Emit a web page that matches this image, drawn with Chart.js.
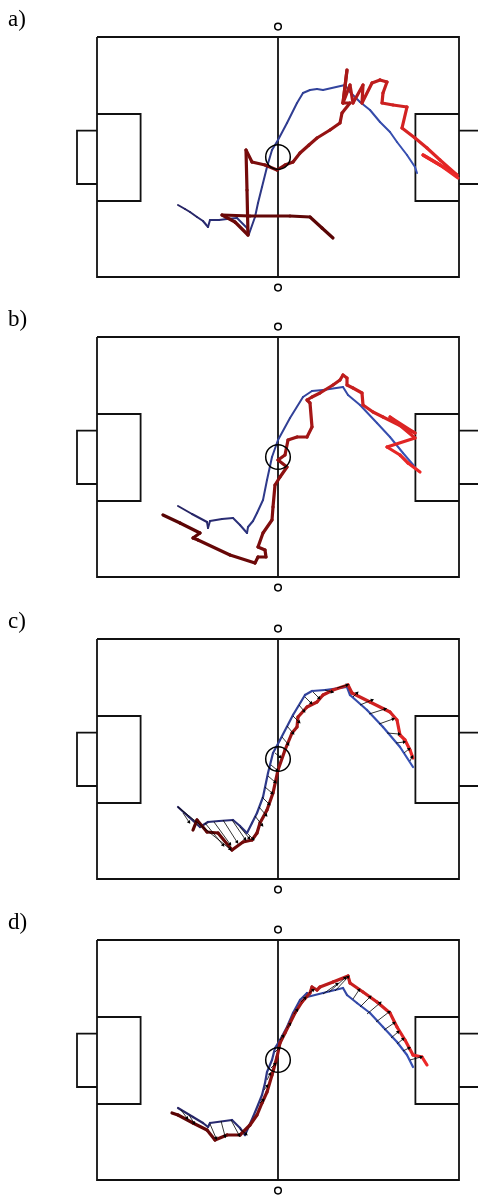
<!DOCTYPE html>
<html>
<head>
<meta charset="utf-8">
<script src="https://cdn.jsdelivr.net/npm/chart.js@4.4.1/dist/chart.umd.min.js"></script>
<style>
	body { margin: 0; width: 478px; height: 1196px; overflow: hidden; background: #fff; position: relative; }
	.panel { position: absolute; left: 0; width: 478px; height: 301px; }
	.panel canvas { position: absolute; left: 0; top: 0; }
	.label { position: absolute; left: 8px; top: 7px; z-index: 2; font: 23px "Liberation Serif", "DejaVu Serif", serif; line-height: 1; color: #000; }
</style>
</head>
<body>
<div class="panel" style="top:0px"><div class="label">a)</div><canvas id="chartA" width="478" height="301"></canvas></div>
<div class="panel" style="top:300px"><div class="label">b)</div><canvas id="chartB" width="478" height="301"></canvas></div>
<div class="panel" style="top:602px"><div class="label">c)</div><canvas id="chartC" width="478" height="301"></canvas></div>
<div class="panel" style="top:903px"><div class="label">d)</div><canvas id="chartD" width="478" height="301"></canvas></div>
<script>
// Pitch coordinates in figure units, origin at the top left corner of the pitch
var blueA = [[81,168],[88,172],[93,175],[100,180],[106,184],[111,190],[113,183],[122,183],[130,182],[140,181],[150,191],[152,197],[158,180],[161,166],[165,150],[170,130],[175,113],[181,103],[190,86],[200,66],[206,56],[213,53],[220,52],[226,53],[248,48],[253,55],[263,65],[273,73],[283,85],[293,95],[300,105],[310,118],[318,130],[320,136]];
var redA = [[236,201],[225,191],[213,180],[193,179],[153,179],[125,178],[138,185],[151,198],[150,153],[149,113],[155,125],[168,128],[180,133],[188,128],[196,125],[203,116],[212,108],[220,101],[233,93],[243,86],[245,76],[253,66],[246,66],[250,33],[246,66],[253,48],[256,66],[266,48],[265,66],[275,46],[283,43],[290,45],[286,56],[285,66],[296,68],[310,70],[305,91],[318,101],[330,111],[343,123],[360,138],[326,118],[343,128],[361,141]];

var blueB = [[81,169],[95,177],[110,185],[111,191],[113,184],[125,182],[136,181],[143,188],[150,196],[151,190],[156,184],[160,176],[166,163],[170,143],[175,120],[181,103],[193,81],[206,60],[215,54],[226,53],[246,50],[251,58],[263,68],[280,86],[293,100],[306,116],[318,130]];
var redB = [[66,178],[83,186],[103,196],[96,201],[101,203],[133,218],[158,226],[161,220],[169,220],[168,213],[161,210],[166,196],[175,183],[176,170],[178,148],[183,140],[190,130],[181,123],[188,118],[191,103],[200,100],[210,100],[215,90],[213,66],[210,63],[215,60],[223,56],[236,48],[243,43],[246,38],[250,41],[250,48],[256,51],[265,56],[266,68],[276,75],[286,80],[318,96],[293,80],[318,101],[290,110],[303,118],[311,126],[323,135]];

var blueC = [[81,168],[92,178],[103,188],[111,183],[122,182],[136,181],[143,187],[150,194],[155,184],[160,174],[166,158],[171,134],[176,114],[183,101],[196,76],[208,56],[215,52],[228,51],[250,48],[253,56],[270,71],[286,88],[303,108],[316,128]];
var redC = [[96,191],[100,181],[110,193],[121,194],[135,211],[146,203],[155,201],[160,194],[163,184],[170,171],[176,154],[181,131],[188,111],[195,94],[200,88],[201,78],[210,68],[220,63],[226,56],[236,51],[251,46],[255,54],[273,63],[293,73],[300,81],[303,96],[308,101],[313,111],[316,119]];
var arrowsC = [[81,168,133,210],[86,174,92,183],[108,184,126,206],[117,183,133,205],[126,181,140,203],[135,181,148,200],[143,188,152,199],[151,195,156,200],[158,177,165,186],[162,168,169,176],[165,158,172,165],[168,148,175,154],[171,137,178,143],[174,126,180,131],[178,114,183,118],[185,98,191,105],[190,87,196,94],[196,77,202,83],[202,66,207,72],[208,58,214,64],[216,53,222,59],[228,51,235,53],[240,49,250,46],[256,58,260,54],[263,66,275,61],[272,75,288,70],[282,85,296,80],[290,94,302,95],[299,104,307,103],[307,114,312,110],[313,122,315,118]];

var blueD = [[81,168],[96,177],[106,183],[111,187],[113,183],[135,180],[143,188],[148,195],[156,177],[161,165],[165,155],[168,143],[170,132],[175,120],[178,108],[183,100],[190,87],[196,73],[203,60],[210,53],[210,57],[226,53],[246,48],[250,55],[260,63],[273,73],[286,87],[300,102],[310,115],[316,127]];
var redD = [[75,173],[81,175],[96,183],[110,190],[118,200],[130,195],[143,195],[153,185],[160,175],[165,163],[170,152],[175,135],[180,117],[183,103],[188,93],[198,73],[205,62],[213,53],[215,47],[220,50],[223,47],[236,42],[251,36],[253,43],[266,52],[280,62],[293,73],[300,87],[308,100],[316,115],[325,117],[330,125]];
var arrowsD = [[84,170,90,178],[92,175,97,183],[113,184,119,198],[124,181,128,196],[134,180,142,195],[143,189,149,194],[163,163,166,160],[167,150,170,146],[170,140,173,134],[174,128,178,124],[178,112,182,108],[183,100,186,96],[190,88,193,84],[197,74,200,70],[204,62,208,58],[212,53,216,50],[226,54,240,44],[232,52,248,38],[238,51,251,37],[256,59,262,50],[263,67,273,57],[270,74,283,63],[279,82,292,72],[287,90,297,83],[294,98,301,92],[300,104,306,99],[306,111,312,108],[313,120,324,117]];

// Pitch markings, same units
var PITCH = { length: 362, width: 240, boxDepth: 43.6, boxTop: 77, boxBottom: 164, goalDepth: 20, goalTop: 93.6, goalBottom: 147 };
var MARKS = [[181,120],[181,-10.4],[181,250.6]];

var BLUE_FROM = [38,36,100], BLUE_TO = [56,82,182];
var RED_FROM = [88,4,4], RED_TO = [236,40,40];

/**
 * Mixes two rgb colours
 */
function mix(c0, c1, t) {
	
	t								 =	Math.max(0, Math.min(1, t));
	return "rgb(" + c0.map(function (v, i) { return Math.round(v + (c1[i] - v) * t); }).join(",") + ")";
	
}

/**
 * Trajectory dataset, colour fades along the track
 */
function trackDataset(points, from, to, width, order) {
	
	var n							 =	points.length;
	
	return {
		data						 :	points.map(function (p) { return { x: p[0], y: p[1] }; }),
		borderColor					 :	mix(from, to, 0.5),
		borderWidth					 :	width,
		pointRadius					 :	0,
		borderJoinStyle				 :	"round",
		borderCapStyle				 :	"round",
		segment						 :	{ borderColor: function (ctx) { return mix(from, to, ctx.p0DataIndex / (n - 2)); } },
		order						 :	order
	};
	
}

/**
 * Thin black arrows from the blue track to the red one
 */
function arrowDataset(arrows) {
	
	var data						 =	[];
	
	arrows.forEach(function (a) {
		data.push({ x: a[0], y: a[1] }, { x: a[2], y: a[3] }, { x: a[2], y: null });
	});
	
	return {
		data						 :	data,
		borderColor					 :	"#000",
		borderWidth					 :	0.8,
		spanGaps					 :	false,
		pointStyle					 :	"triangle",
		pointBackgroundColor		 :	"#000",
		pointBorderColor			 :	"#000",
		pointBorderWidth			 :	0,
		pointRadius					 :	function (ctx) { return ctx.dataIndex % 3 === 1 ? 2.2 : 0; },
		pointRotation				 :	function (ctx) {
			if (ctx.dataIndex % 3 !== 1) return 0;
			var a					 =	arrows[(ctx.dataIndex - 1) / 3];
			return Math.atan2(a[2] - a[0], -(a[3] - a[1])) * 180 / Math.PI;
		},
		order						 :	2
	};
	
}

/**
 * Pitch lines as one gapped line dataset
 */
function pitchDataset() {
	
	var P							 =	PITCH;
	var L							 =	P.length;
	var W							 =	P.width;
	var segs						 =	[
		[[0,0],[L,0],[L,W],[0,W],[0,0]],
		[[L/2,0],[L/2,W]],
		[[0,P.boxTop],[P.boxDepth,P.boxTop],[P.boxDepth,P.boxBottom],[0,P.boxBottom]],
		[[0,P.goalTop],[-P.goalDepth,P.goalTop],[-P.goalDepth,P.goalBottom],[0,P.goalBottom]],
		[[L,P.boxTop],[L-P.boxDepth,P.boxTop],[L-P.boxDepth,P.boxBottom],[L,P.boxBottom]],
		[[L,P.goalTop],[L+P.goalDepth,P.goalTop],[L+P.goalDepth,P.goalBottom],[L,P.goalBottom]]
	];
	var data						 =	[];
	
	segs.forEach(function (s) {
		s.forEach(function (p) { data.push({ x: p[0], y: p[1] }); });
		data.push({ x: s[0][0], y: null });
	});
	
	return {
		data						 :	data,
		borderColor					 :	"#111",
		borderWidth					 :	1.8,
		pointRadius					 :	0,
		spanGaps					 :	false,
		borderJoinStyle				 :	"miter",
		order						 :	10
	};
	
}

/**
 * Centre circle and the two small marks
 */
function marksDataset() {
	
	return {
		data						 :	MARKS.map(function (p) { return { x: p[0], y: p[1] }; }),
		showLine					 :	false,
		pointStyle					 :	"circle",
		pointRadius					 :	[12.3, 3.3, 3.3],
		pointBorderWidth			 :	1.5,
		pointBorderColor			 :	"#000",
		pointBackgroundColor		 :	"rgba(0,0,0,0)",
		order						 :	1
	};
	
}

/**
 * Renders one panel
 */
function renderPanel(id, blue, red, arrows, blueWidth, redWidth) {
	
	var datasets					 =	[
		pitchDataset(),
		trackDataset(blue, BLUE_FROM, BLUE_TO, blueWidth, 5),
		trackDataset(red, RED_FROM, RED_TO, redWidth, 4),
		marksDataset()
	];
	
	if (arrows) datasets.push(arrowDataset(arrows));
	
	new Chart(document.getElementById(id), {
		type						 :	"line",
		data						 :	{ datasets: datasets },
		options						 :	{
			responsive				 :	false,
			animation				 :	false,
			devicePixelRatio		 :	1,
			layout					 :	{ padding: 0, autoPadding: false },
			plugins					 :	{ legend: { display: false }, tooltip: { enabled: false } },
			scales					 :	{
				x					 :	{ type: "linear", min: -97, max: 381, display: false },
				y					 :	{ type: "linear", min: -37, max: 264, reverse: true, display: false }
			}
		}
	});
	
}

renderPanel("chartA", blueA, redA, null, 2, 3.2);
renderPanel("chartB", blueB, redB, null, 2, 3.2);
renderPanel("chartC", blueC, redC, arrowsC, 2.2, 3.2);
renderPanel("chartD", blueD, redD, arrowsD, 2.2, 3.2);
</script>
</body>
</html>
